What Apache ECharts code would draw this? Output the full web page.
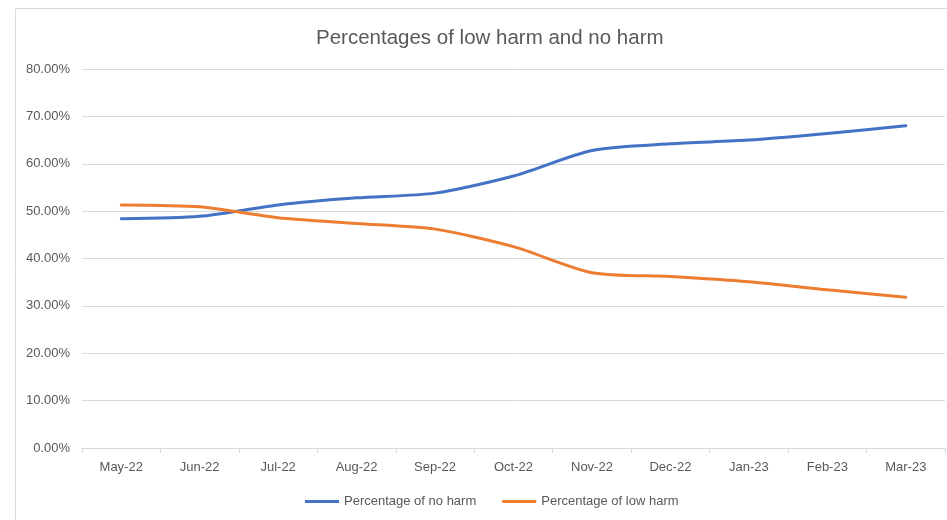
<!DOCTYPE html>
<html>
<head>
<meta charset="utf-8">
<script src="https://cdn.jsdelivr.net/npm/echarts@6/dist/echarts.min.js"></script>
<style>
  html, body { margin: 0; padding: 0; background: #fff; }
  #chart { width: 947px; height: 520px; }
</style>
</head>
<body>
<div id="chart"></div>
<script>
// Monthly categories
const months = ['May-22', 'Jun-22', 'Jul-22', 'Aug-22', 'Sep-22', 'Oct-22',
                'Nov-22', 'Dec-22', 'Jan-23', 'Feb-23', 'Mar-23'];
// Percentages (in %)
const noHarm  = [48.4, 48.9, 51.3, 52.8, 53.8, 57.4, 62.8, 64.2, 65.0, 66.4, 68.0];
const lowHarm = [51.3, 50.9, 48.6, 47.4, 46.2, 42.5, 37.0, 36.2, 35.1, 33.4, 31.8];
// Y axis range and step (in %)
const yMin = 0, yMax = 80, yStep = 10;

const textColor = '#595959';
const gridColor = '#d9d9d9';
const font = 'Liberation Sans';

const chart = echarts.init(document.getElementById('chart'), null, { renderer: 'canvas' });
chart.setOption({
  backgroundColor: '#ffffff',
  animation: false,
  // chart frame (its right and bottom edges run past the canvas)
  graphic: [{
    type: 'rect',
    shape: { x: 15.5, y: 8.5, width: 960, height: 540 },
    style: { fill: 'none', stroke: gridColor, lineWidth: 1 },
    silent: true
  }],
  title: {
    text: 'Percentages of low harm and no harm',
    left: 311,
    top: 23,
    textStyle: { color: textColor, fontFamily: font, fontSize: 20.5, fontWeight: 'normal' }
  },
  legend: {
    bottom: 7,
    left: 300,
    icon: 'rect',
    itemWidth: 34,
    itemHeight: 3,
    itemGap: 26,
    textStyle: { color: textColor, fontFamily: font, fontSize: 13 },
    data: ['Percentage of no harm', 'Percentage of low harm']
  },
  grid: { left: 82, right: 2, top: 69, bottom: 72, containLabel: false },
  xAxis: {
    type: 'category',
    data: months,
    boundaryGap: true,
    axisLine: { lineStyle: { color: gridColor, width: 1 } },
    axisTick: { show: true, alignWithLabel: false, length: 5, lineStyle: { color: gridColor } },
    axisLabel: { color: textColor, fontFamily: font, fontSize: 13, margin: 13 }
  },
  yAxis: {
    type: 'value',
    min: yMin,
    max: yMax,
    interval: yStep,
    axisLine: { show: false },
    axisTick: { show: false },
    splitLine: { lineStyle: { color: gridColor, width: 1 } },
    axisLabel: {
      color: textColor, fontFamily: font, fontSize: 13, margin: 12,
      formatter: v => v.toFixed(2) + '%'
    }
  },
  series: [
    {
      name: 'Percentage of no harm',
      type: 'line',
      data: noHarm,
      smooth: 0.25,
      symbol: 'none',
      lineStyle: { color: '#4472C4', width: 3, cap: 'round' },
      itemStyle: { color: '#4472C4' }
    },
    {
      name: 'Percentage of low harm',
      type: 'line',
      data: lowHarm,
      smooth: 0.25,
      symbol: 'none',
      lineStyle: { color: '#ED7D31', width: 3, cap: 'round' },
      itemStyle: { color: '#ED7D31' }
    }
  ]
});
</script>
</body>
</html>
